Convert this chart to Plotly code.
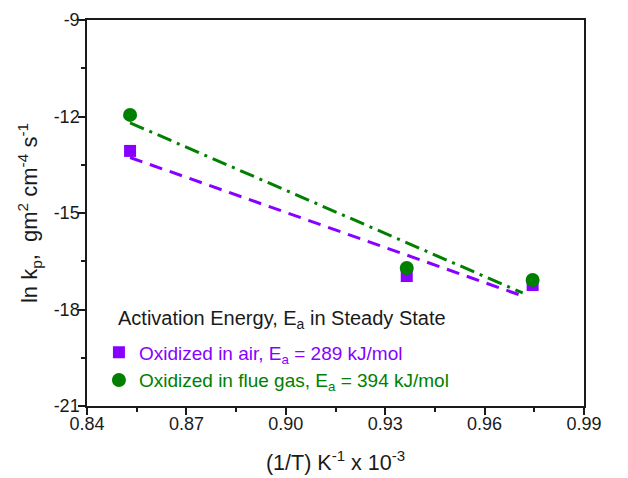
import numpy as np
import plotly.graph_objects as go

# Data
inv_T = [0.853, 0.9365, 0.9745]          # (1/T) K^-1 x 10^-3
ln_kp_air = [-13.07, -16.96, -17.24]     # oxidized in air
ln_kp_flue = [-11.95, -16.71, -17.08]    # oxidized in flue gas
fit_range = [0.853, 0.9715]              # x-extent of the drawn linear fits

x_ticks = [0.84, 0.87, 0.90, 0.93, 0.96, 0.99]
x_tick_labels = ["0.84", "0.87", "0.90", "0.93", "0.96", "0.99"]
y_ticks = [-21, -18, -15, -12, -9]
y_tick_labels = ["-21", "-18", "-15", "-12", "-9"]

PURPLE = "#8800FF"
GREEN = "#008000"
INK = "#1a1a1a"
FONT = "Liberation Sans, Arial, sans-serif"

x = np.array(inv_T)
fit_x = np.array(fit_range)
p_air = np.polyfit(x, ln_kp_air, 1)
p_flue = np.polyfit(x, ln_kp_flue, 1)

fig = go.Figure()

fig.add_trace(go.Scatter(x=fit_x, y=np.polyval(p_air, fit_x), mode="lines",
                         line=dict(color=PURPLE, width=3, dash="13px,8px"),
                         showlegend=False, hoverinfo="skip"))
fig.add_trace(go.Scatter(x=fit_x, y=np.polyval(p_flue, fit_x), mode="lines",
                         line=dict(color=GREEN, width=3, dash="15px,6px,3px,6px"),
                         showlegend=False, hoverinfo="skip"))

fig.add_trace(go.Scatter(x=inv_T, y=ln_kp_air, mode="markers",
                         marker=dict(symbol="square", size=12, color=PURPLE),
                         name=f"<span style='color:{PURPLE}'>Oxidized in air, E<sub>a</sub> = 289 kJ/mol</span>"))
fig.add_trace(go.Scatter(x=inv_T, y=ln_kp_flue, mode="markers",
                         marker=dict(symbol="circle", size=14, color=GREEN),
                         name=f"<span style='color:{GREEN}'>Oxidized in flue gas, E<sub>a</sub> = 394 kJ/mol</span>"))

axis_common = dict(showline=True, linecolor=INK, linewidth=1.5, mirror=True,
                   ticks="outside", ticklen=7, tickwidth=1.5, tickcolor=INK,
                   showgrid=False, zeroline=False, automargin=False,
                   tickfont=dict(family=FONT, size=18, color=INK))

fig.update_xaxes(range=[0.84, 0.99], tickvals=x_ticks, ticktext=x_tick_labels,
                 ticklabelstandoff=-6,
                 minor=dict(dtick=0.015, tick0=0.84, ticks="outside", ticklen=4,
                            tickwidth=1.5, tickcolor=INK),
                 title=dict(text="(1/T) K<sup>-1</sup> x 10<sup>-3</sup>",
                            font=dict(family=FONT, size=21.5, color=INK), standoff=22),
                 **axis_common)
fig.update_yaxes(range=[-21, -9], tickvals=y_ticks, ticktext=y_tick_labels,
                 ticklabelstandoff=-5,
                 minor=dict(dtick=1.5, tick0=-21, ticks="outside", ticklen=4,
                            tickwidth=1.5, tickcolor=INK),
                 title=dict(text="ln k<sub>p</sub>,  gm<sup>2</sup> cm<sup>-4</sup> s<sup>-1</sup>",
                            font=dict(family=FONT, size=22, color=INK), standoff=10),
                 **axis_common)

fig.add_annotation(xref="paper", yref="paper", x=0.058, y=0.225,
                   xanchor="left", yanchor="middle", showarrow=False,
                   text="Activation Energy, E<sub>a</sub> in Steady State",
                   font=dict(family=FONT, size=20, color=INK))

fig.update_layout(
    width=620, height=470,
    margin=dict(l=79, r=44, t=12, b=72),
    paper_bgcolor="white", plot_bgcolor="white",
    font=dict(family=FONT, size=19, color=INK),
    showlegend=True,
    legend=dict(x=0.024, y=0.188, xanchor="left", yanchor="top",
                bgcolor="rgba(0,0,0,0)", borderwidth=0,
                font=dict(family=FONT, size=19), itemwidth=30, tracegroupgap=0),
)

fig.write_html("out.html")
